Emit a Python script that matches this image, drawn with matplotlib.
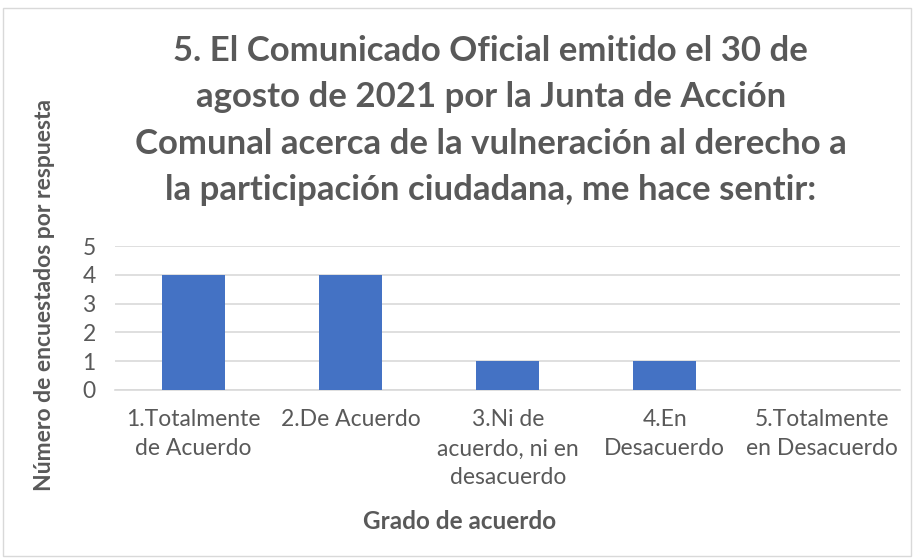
import matplotlib.pyplot as plt
from matplotlib.patches import Rectangle

# Chart data
categories = [
    "1.Totalmente\nde Acuerdo",
    "2.De Acuerdo",
    "3.Ni de\nacuerdo, ni en\ndesacuerdo",
    "4.En\nDesacuerdo",
    "5.Totalmente\nen Desacuerdo",
]
respuestas = [4, 4, 1, 1, 0]
y_ticks = [0, 1, 2, 3, 4, 5]

title = ("5. El Comunicado Oficial emitido el 30 de\n"
         "agosto de 2021 por la Junta de Acción\n"
         "Comunal acerca de la vulneración al derecho a\n"
         "la participación ciudadana, me hace sentir:")
x_label = "Grado de acuerdo"
y_label = "Número de encuestados por respuesta"

# Styling
FONT = ["Lato", "DejaVu Sans"]
TEXT_COLOR = "#595959"
BAR_COLOR = "#4472C4"
GRID_COLOR = "#D9D9D9"

plt.rcParams["font.family"] = FONT

fig = plt.figure(figsize=(9.14, 5.6), dpi=100, facecolor="white")
fig.patches.append(Rectangle((0.003, 0.008), 0.994, 0.978, transform=fig.transFigure,
                             fill=False, edgecolor="#D9D9D9", linewidth=1))

ax = fig.add_axes([0.126, 0.3036, 0.859, 0.2571])
x = range(len(categories))
ax.bar(x, respuestas, width=0.4, color=BAR_COLOR, zorder=3)

ax.set_xlim(-0.5, len(categories) - 0.5)
ax.set_ylim(0, 5)
ax.set_yticks(y_ticks)
ax.set_xticks(list(x))
ax.set_xticklabels(categories, fontsize=16.5, color=TEXT_COLOR, linespacing=1.47)
ax.tick_params(axis="y", labelsize=16.5, labelcolor=TEXT_COLOR, length=0, pad=14)
ax.tick_params(axis="x", length=0, pad=14)
ax.grid(axis="y", color=GRID_COLOR, linewidth=1.2, zorder=0)
for side in ["top", "right", "left"]:
    ax.spines[side].set_visible(False)
ax.spines["bottom"].set_color(GRID_COLOR)
ax.spines["bottom"].set_linewidth(1.2)

fig.text(0.537, 0.785, title, ha="center", va="center", fontsize=25, fontweight="bold",
         color=TEXT_COLOR, linespacing=1.56)
fig.text(0.503, 0.068, x_label, ha="center", va="center", fontsize=17.5, fontweight="bold",
         color=TEXT_COLOR)
fig.text(0.049, 0.473, y_label, ha="center", va="center", rotation=90, fontsize=16.5,
         fontweight="bold", color=TEXT_COLOR)

fig.savefig("out.png", dpi=100, facecolor="white")
